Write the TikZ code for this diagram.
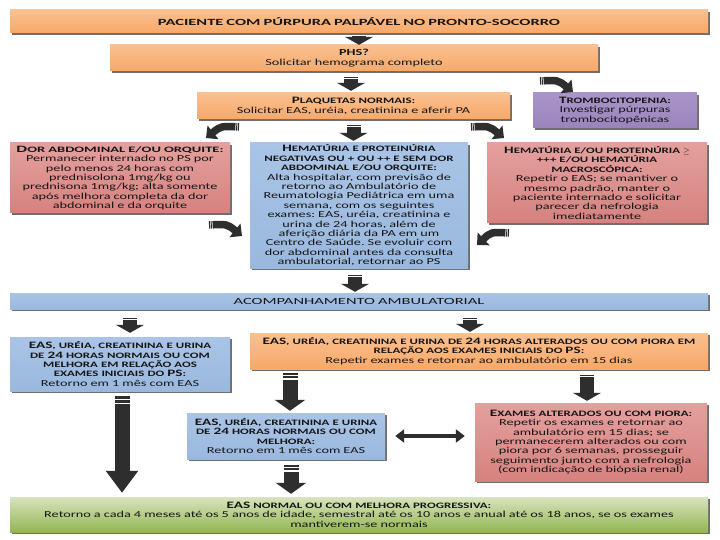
\documentclass[tikz,border=0pt]{standalone}
\usepackage{fontspec}
\setmainfont{Carlito}[FakeStretch=1.55]
\newfontfamily\hfam{Carlito}[FakeStretch=1.75]
\usetikzlibrary{arrows.meta,shadows,calc}
\definecolor{txt}{HTML}{161616}
\definecolor{arr}{HTML}{2E2E2E}
\newcommand\hs{\fontsize{8.3}{9.4}\selectfont\bfseries}
\newcommand\I[1]{{\fontsize{9.8}{9.4}\selectfont #1}}
\newcommand\bt{\fontsize{9.2}{9.4}\selectfont\mdseries}
\frenchspacing
\tikzset{
  box/.style={align=center, inner sep=1pt, text=txt, font=\bt,
    drop shadow={shadow xshift=1.6pt, shadow yshift=-1.6pt, fill=black!70, opacity=0.8}},
  orangebox/.style={box, top color=orange1, middle color=orange2, bottom color=orange3},
  bluebox/.style={box, top color=blue1, middle color=blue2, bottom color=blue3},
  redbox/.style={box, top color=red1, middle color=red2, bottom color=red3},
  purplebox/.style={box, top color=purple1, middle color=purple2, bottom color=purple3},
  greenbox/.style={box, top color=green1, middle color=green2, bottom color=green3},
  barrow/.style={draw=arr, line width=14pt, -{Triangle[width=28pt,length=8pt]},
    dash pattern=on 1.2pt off 0.8pt on 300pt},
  longarrow/.style={draw=arr, line width=15pt, -{Triangle[width=30pt,length=11pt]},
    dash pattern=on 2pt off 1.2pt on 2pt off 1.2pt on 300pt},
  bigarrow/.style={draw=arr, line width=15pt, -{Triangle[width=31pt,length=22pt]},
    dash pattern=on 2.5pt off 1.5pt on 2.5pt off 1.5pt on 300pt},
  carrow/.style={draw=arr, line width=7.5pt, -{Triangle[width=17pt,length=9pt]},
    dash pattern=on 1pt off 0.8pt on 1pt off 0.8pt on 100pt},
  darrow/.style={draw=arr, line width=4.5pt, {Triangle[width=13pt,length=9pt]}-{Triangle[width=13pt,length=9pt]}},
}
\definecolor{orange1}{HTML}{FAC090}
\definecolor{orange2}{HTML}{F68A34}
\definecolor{orange3}{HTML}{F8A868}
\definecolor{blue1}{HTML}{A9C4E6}
\definecolor{blue2}{HTML}{4F81BD}
\definecolor{blue3}{HTML}{9AB8DE}
\definecolor{red1}{HTML}{E4A09E}
\definecolor{red2}{HTML}{C0504D}
\definecolor{red3}{HTML}{D6827F}
\definecolor{purple1}{HTML}{AA95CA}
\definecolor{purple2}{HTML}{7A5D9E}
\definecolor{purple3}{HTML}{9A84BC}
\definecolor{green1}{HTML}{D7E4BD}
\definecolor{green2}{HTML}{B0CB78}
\definecolor{green3}{HTML}{94B653}
\begin{document}
\begin{tikzpicture}[x=1pt,y=-1pt]
\useasboundingbox[fill=white] (0,0) rectangle (720,540);

% boxes
\node[orangebox, minimum width=698pt, minimum height=23pt, text width=694pt] (title) at (359,21.5)
  {\hfam\fontsize{9.4}{9.4}\selectfont\bfseries PACIENTE COM PÚRPURA PALPÁVEL NO PRONTO-SOCORRO};
\node[orangebox, minimum width=488pt, minimum height=26pt, text width=484pt] (phs) at (354,58)
  {{\bfseries PHS?}\\ Solicitar hemograma completo};
\node[orangebox, minimum width=313pt, minimum height=26pt, text width=309pt] (plaq) at (353.5,106)
  {{\hs \I{P}LAQUETAS NORMAIS:}\\ \bt Solicitar EAS, uréia, creatinina e aferir PA};
\node[purplebox, minimum width=164pt, minimum height=35pt, text width=160pt] (trombo) at (615,110.5)
  {{\hs \I{T}ROMBOCITOPENIA:}\\ \bt Investigar púrpuras\\ trombocitopênicas};
\node[redbox, minimum width=220pt, minimum height=70pt, text width=216pt] (dor) at (120,178)
  {{\hfam\hs \I{D}OR ABDOMINAL E/OU ORQUITE:}\\ \bt Permanecer internado no PS por\\ pelo menos 24 horas com\\ prednisolona 1mg/kg ou\\ prednisona 1mg/kg; alta somente\\ após melhora completa da dor\\ abdominal e da orquite};
\node[bluebox, minimum width=218pt, minimum height=125pt, text width=214pt] (hneg) at (359,205.5)
  {{\hs \I{H}EMATÚRIA E PROTEINÚRIA\\ NEGATIVAS OU + OU ++ E SEM DOR\\ ABDOMINAL E/OU ORQUITE:}\\ \bt Alta hospitalar, com previsão de\\ retorno ao Ambulatório de\\ Reumatologia Pediátrica em uma\\ semana, com os seguintes\\ exames: EAS, uréia, creatinina e\\ urina de 24 horas, além de\\ aferição diária da PA em um\\ Centro de Saúde. Se evoluir com\\ dor abdominal antes da consulta\\ ambulatorial, retornar ao PS};
\node[redbox, minimum width=220pt, minimum height=80pt, text width=216pt] (hpos) at (597,183)
  {{\hs \I{H}EMATÚRIA E/OU PROTEINÚRIA $\geq$\\ +++ E/OU HEMATÚRIA\\ MACROSCÓPICA:}\\ \bt Repetir o EAS; se mantiver o\\ mesmo padrão, manter o\\ paciente internado e solicitar\\ parecer da nefrologia\\ imediatamente};
\node[bluebox, minimum width=698pt, minimum height=16pt, text width=694pt] (acomp) at (359,301)
  {\hfam\fontsize{9.4}{9.4}\selectfont ACOMPANHAMENTO AMBULATORIAL};
\node[bluebox, minimum width=220pt, minimum height=54pt, text width=216pt] (normais) at (120,364)
  {{\hs \I{EAS}, URÉIA, CREATININA E URINA\\ DE \I{24} HORAS NORMAIS OU COM\\ MELHORA EM RELAÇÃO AOS\\ EXAMES INICIAIS DO \I{PS}:}\\ \bt Retorno em 1 mês com EAS};
\node[orangebox, minimum width=458pt, minimum height=36pt, text width=454pt] (alterados) at (479,351)
  {{\hs \I{EAS}, URÉIA, CREATININA E URINA DE \I{24} HORAS ALTERADOS OU COM PIORA EM\\ RELAÇÃO AOS EXAMES INICIAIS DO \I{PS}:}\\ \bt Repetir exames e retornar ao ambulatório em 15 dias};
\node[bluebox, minimum width=198pt, minimum height=46pt, text width=194pt] (melhora) at (286,436)
  {{\hs \I{EAS}, URÉIA, CREATININA E URINA\\ DE \I{24} HORAS NORMAIS OU COM\\ MELHORA:}\\ \bt Retorno em 1 mês com EAS};
\node[redbox, minimum width=232pt, minimum height=78pt, text width=228pt] (piora) at (591,442)
  {{\hs \I{E}XAMES ALTERADOS OU COM PIORA:}\\ \bt Repetir os exames e retornar ao\\ ambulatório em 15 dias; se\\ permanecerem alterados ou com\\ piora por 6 semanas, prosseguir\\ seguimento junto com a nefrologia\\ (com indicação de biópsia renal)};
\node[greenbox, minimum width=698pt, minimum height=35pt, text width=694pt] (progr) at (359,514.5)
  {{\hs \I{EAS} NORMAL OU COM MELHORA PROGRESSIVA:}\\ \bt Retorno a cada 4 meses até os 5 anos de idade, semestral até os 10 anos e anual até os 18 anos, se os exames\\ mantiverem-se normais};

% straight block arrows (y grows downwards)
\draw[barrow] ($(title.south)+(0,3)$) -- (title.south |- phs.north);
\draw[barrow] ($(phs.south)+(-3,6)$) -- ($(phs.south |- plaq.north)+(-3,-2)$);
\draw[barrow] ($(plaq.south)+(0,6)$) -- ($(plaq.south |- hneg.north)+(0,-2)$);
\draw[barrow] ($(hneg.south)+(-4,7)$) -- ($(hneg.south |- acomp.north)+(-4,-1)$);
\draw[barrow] ($(acomp.south -| normais.north)+(10,9)$) -- ($(normais.north)+(10,-4)$);
\draw[barrow] ($(acomp.south -| alterados.north)+(-9,9)$) -- ($(alterados.north)+(-9,-1)$);
\draw[longarrow] ($(alterados.south -| melhora.north)+(4,4)$) -- ($(melhora.north)+(4,-2)$);
\draw[barrow] ($(alterados.south -| piora.north)+(-4,6)$) -- ($(piora.north)+(-4,-2)$);
\draw[longarrow] ($(melhora.south)+(5,6)$) -- ($(melhora.south |- progr.north)+(5,-3)$);
\draw[bigarrow] ($(normais.south)+(2,5)$) -- ($(normais.south |- progr.north)+(2,-4)$);
\draw[darrow] ($(melhora.east)+(10,0)$) -- ($(melhora.east -| piora.west)+(-10,0)$);

% diagonal arrows
\coordinate (c1s) at (540,81);  \coordinate (c1e) at (573,92);
\coordinate (c2s) at (239,127); \coordinate (c2e) at (206,138);
\coordinate (c3s) at (471,127); \coordinate (c3e) at (504,138);
\coordinate (c4s) at (209,225); \coordinate (c4e) at (242,236);
\coordinate (c5s) at (509,233); \coordinate (c5e) at (477,245);
\draw[carrow] (c1s) .. controls (558,80) .. (c1e);
\draw[carrow] (c2s) .. controls (221,126) .. (c2e);
\draw[carrow] (c3s) .. controls (489,126) .. (c3e);
\draw[carrow] (c4s) .. controls (227,224) .. (c4e);
\draw[carrow] (c5s) .. controls (491,232) .. (c5e);
\end{tikzpicture}
\end{document}
